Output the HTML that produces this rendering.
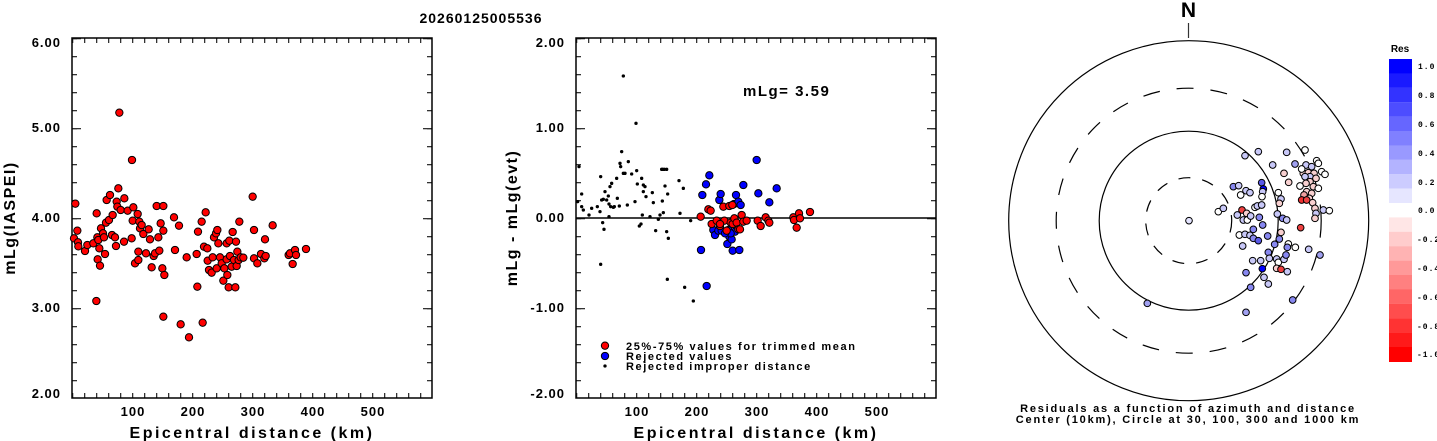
<!DOCTYPE html>
<html><head><meta charset="utf-8"><style>
body{margin:0;background:#fff;}
svg{display:block;font-family:"Liberation Sans",sans-serif;font-weight:bold;}
</style></head><body>
<svg width="1437" height="441" viewBox="0 0 1437 441" xmlns="http://www.w3.org/2000/svg">
<defs>
<pattern id="tx" patternUnits="userSpaceOnUse" x="72" y="0" width="12" height="441"><rect x="0" y="0" width="1.3" height="441" fill="#333"/></pattern>
<pattern id="ty" patternUnits="userSpaceOnUse" x="0" y="38" width="1437" height="18"><rect x="0" y="0" width="1437" height="1.3" fill="#333"/></pattern>
<pattern id="tY" patternUnits="userSpaceOnUse" x="0" y="38" width="1437" height="90"><rect x="0" y="0" width="1437" height="1.3" fill="#333"/></pattern>
</defs>
<text x="481" y="23" font-size="14" text-anchor="middle" letter-spacing="1">20260125005536</text>

<!-- TICKS -->
<g>
<rect x="72" y="38" width="360" height="5" fill="url(#tx)"/>
<rect x="72" y="393" width="360" height="5" fill="url(#tx)"/>
<rect x="72" y="38" width="5" height="360" fill="url(#ty)"/>
<rect x="427" y="38" width="5" height="360" fill="url(#ty)"/>
<rect x="72" y="38" width="9" height="360" fill="url(#tY)"/>
<rect x="423" y="38" width="9" height="360" fill="url(#tY)"/>
<rect x="576" y="38" width="360" height="5" fill="url(#tx)"/>
<rect x="576" y="393" width="360" height="5" fill="url(#tx)"/>
<rect x="576" y="38" width="5" height="360" fill="url(#ty)"/>
<rect x="931" y="38" width="5" height="360" fill="url(#ty)"/>
<rect x="576" y="38" width="9" height="360" fill="url(#tY)"/>
<rect x="927" y="38" width="9" height="360" fill="url(#tY)"/>
</g>

<!-- LEFT PLOT -->
<rect x="72" y="38" width="360" height="360" fill="none" stroke="#000" stroke-width="1.5"/>
<g font-size="13" text-anchor="end" letter-spacing="1">
<text x="61" y="47">6.00</text><text x="61" y="132">5.00</text><text x="61" y="222">4.00</text><text x="61" y="312">3.00</text><text x="61" y="398">2.00</text>
</g>
<g font-size="13" text-anchor="middle" letter-spacing="1">
<text x="133" y="416">100</text><text x="193" y="416">200</text><text x="253" y="416">300</text><text x="313" y="416">400</text><text x="373" y="416">500</text>
</g>
<text x="252" y="438" font-size="16" text-anchor="middle" letter-spacing="2.5">Epicentral distance (km)</text>
<text transform="translate(15,218) rotate(-90)" font-size="16" text-anchor="middle" letter-spacing="1.5">mLg(IASPEI)</text>

<g transform="scale(0.33333)" fill="#f00" stroke="#000" stroke-width="3">
<circle cx="226" cy="611" r="11"/><circle cx="222" cy="715" r="11"/><circle cx="232" cy="692" r="11"/><circle cx="234" cy="727" r="11"/><circle cx="235" cy="739" r="11"/><circle cx="255" cy="753" r="11"/><circle cx="262" cy="735" r="11"/><circle cx="280" cy="730" r="11"/><circle cx="290" cy="640" r="11"/><circle cx="292" cy="712" r="11"/><circle cx="295" cy="720" r="11"/><circle cx="298" cy="745" r="11"/><circle cx="293" cy="778" r="11"/><circle cx="300" cy="797" r="11"/><circle cx="289" cy="903" r="11"/><circle cx="303" cy="685" r="11"/><circle cx="309" cy="700" r="11"/><circle cx="312" cy="712" r="11"/><circle cx="315" cy="762" r="11"/><circle cx="318" cy="668" r="11"/><circle cx="320" cy="600" r="11"/><circle cx="327" cy="660" r="11"/><circle cx="330" cy="585" r="11"/><circle cx="338" cy="645" r="11"/><circle cx="336" cy="705" r="11"/><circle cx="345" cy="712" r="11"/><circle cx="348" cy="738" r="11"/><circle cx="350" cy="605" r="11"/><circle cx="355" cy="565" r="11"/><circle cx="352" cy="620" r="11"/><circle cx="358" cy="338" r="11"/><circle cx="362" cy="630" r="11"/><circle cx="372" cy="725" r="11"/><circle cx="373" cy="595" r="11"/><circle cx="383" cy="632" r="11"/><circle cx="395" cy="715" r="11"/><circle cx="396" cy="480" r="11"/><circle cx="400" cy="622" r="11"/><circle cx="398" cy="662" r="11"/><circle cx="405" cy="790" r="11"/><circle cx="413" cy="642" r="11"/><circle cx="415" cy="755" r="11"/><circle cx="415" cy="780" r="11"/><circle cx="418" cy="665" r="11"/><circle cx="420" cy="685" r="11"/><circle cx="425" cy="675" r="11"/><circle cx="430" cy="702" r="11"/><circle cx="438" cy="760" r="11"/><circle cx="446" cy="688" r="11"/><circle cx="450" cy="718" r="11"/><circle cx="455" cy="802" r="11"/><circle cx="461" cy="768" r="11"/><circle cx="465" cy="760" r="11"/><circle cx="470" cy="618" r="11"/><circle cx="475" cy="712" r="11"/><circle cx="478" cy="752" r="11"/><circle cx="482" cy="670" r="11"/><circle cx="487" cy="805" r="11"/><circle cx="490" cy="618" r="11"/><circle cx="490" cy="692" r="11"/><circle cx="493" cy="825" r="11"/><circle cx="490" cy="950" r="11"/><circle cx="522" cy="652" r="11"/><circle cx="525" cy="750" r="11"/><circle cx="537" cy="677" r="11"/><circle cx="542" cy="973" r="11"/><circle cx="560" cy="772" r="11"/><circle cx="567" cy="1012" r="11"/><circle cx="590" cy="762" r="11"/><circle cx="592" cy="860" r="11"/><circle cx="594" cy="695" r="11"/><circle cx="605" cy="665" r="11"/><circle cx="608" cy="968" r="11"/><circle cx="612" cy="740" r="11"/><circle cx="617" cy="637" r="11"/><circle cx="622" cy="745" r="11"/><circle cx="623" cy="782" r="11"/><circle cx="627" cy="810" r="11"/><circle cx="635" cy="818" r="11"/><circle cx="638" cy="772" r="11"/><circle cx="642" cy="712" r="11"/><circle cx="648" cy="700" r="11"/><circle cx="650" cy="805" r="11"/><circle cx="652" cy="690" r="11"/><circle cx="655" cy="730" r="11"/><circle cx="660" cy="772" r="11"/><circle cx="665" cy="790" r="11"/><circle cx="670" cy="842" r="11"/><circle cx="673" cy="805" r="11"/><circle cx="680" cy="730" r="11"/><circle cx="680" cy="778" r="11"/><circle cx="682" cy="825" r="11"/><circle cx="686" cy="862" r="11"/><circle cx="688" cy="722" r="11"/><circle cx="690" cy="768" r="11"/><circle cx="695" cy="800" r="11"/><circle cx="698" cy="696" r="11"/><circle cx="702" cy="780" r="11"/><circle cx="706" cy="862" r="11"/><circle cx="708" cy="725" r="11"/><circle cx="710" cy="798" r="11"/><circle cx="712" cy="755" r="11"/><circle cx="716" cy="780" r="11"/><circle cx="718" cy="665" r="11"/><circle cx="722" cy="772" r="11"/><circle cx="730" cy="773" r="11"/><circle cx="758" cy="590" r="11"/><circle cx="762" cy="690" r="11"/><circle cx="762" cy="775" r="11"/><circle cx="772" cy="790" r="11"/><circle cx="783" cy="762" r="11"/><circle cx="793" cy="775" r="11"/><circle cx="795" cy="718" r="11"/><circle cx="797" cy="768" r="11"/><circle cx="818" cy="676" r="11"/><circle cx="866" cy="765" r="11"/><circle cx="870" cy="760" r="11"/><circle cx="878" cy="792" r="11"/><circle cx="885" cy="750" r="11"/><circle cx="888" cy="765" r="11"/><circle cx="918" cy="747" r="11"/>
</g>

<!-- MIDDLE PLOT -->
<rect x="576" y="38" width="360" height="360" fill="none" stroke="#000" stroke-width="1.5"/>
<line x1="576" y1="218" x2="936" y2="218" stroke="#000" stroke-width="1.5"/>
<g font-size="13" text-anchor="end" letter-spacing="1">
<text x="565" y="47">2.00</text><text x="565" y="132">1.00</text><text x="565" y="222">0.00</text><text x="565" y="312">-1.00</text><text x="565" y="398">-2.00</text>
</g>
<g font-size="13" text-anchor="middle" letter-spacing="1">
<text x="637" y="416">100</text><text x="697" y="416">200</text><text x="757" y="416">300</text><text x="817" y="416">400</text><text x="877" y="416">500</text>
</g>
<text x="756" y="438" font-size="16" text-anchor="middle" letter-spacing="2.5">Epicentral distance (km)</text>
<text transform="translate(517,218) rotate(-90)" font-size="16" text-anchor="middle" letter-spacing="1.5">mLg - mLg(evt)</text>
<text x="743" y="96" font-size="15" letter-spacing="1.5">mLg= 3.59</text>

<g transform="translate(480,0) scale(0.33333)">
<g fill="#000">
<circle cx="297" cy="500" r="5"/><circle cx="293" cy="605" r="5"/><circle cx="305" cy="582" r="5"/><circle cx="305" cy="620" r="5"/><circle cx="310" cy="630" r="5"/><circle cx="327" cy="645" r="5"/><circle cx="335" cy="625" r="5"/><circle cx="352" cy="620" r="5"/><circle cx="362" cy="530" r="5"/><circle cx="360" cy="635" r="5"/><circle cx="365" cy="600" r="5"/><circle cx="368" cy="668" r="5"/><circle cx="372" cy="688" r="5"/><circle cx="370" cy="598" r="5"/><circle cx="375" cy="575" r="5"/><circle cx="380" cy="600" r="5"/><circle cx="385" cy="588" r="5"/><circle cx="387" cy="612" r="5"/><circle cx="390" cy="560" r="5"/><circle cx="387" cy="650" r="5"/><circle cx="395" cy="550" r="5"/><circle cx="392" cy="620" r="5"/><circle cx="400" cy="622" r="5"/><circle cx="403" cy="620" r="5"/><circle cx="410" cy="535" r="5"/><circle cx="412" cy="595" r="5"/><circle cx="418" cy="618" r="5"/><circle cx="420" cy="490" r="5"/><circle cx="422" cy="500" r="5"/><circle cx="425" cy="455" r="5"/><circle cx="430" cy="520" r="5"/><circle cx="435" cy="520" r="5"/><circle cx="445" cy="485" r="5"/><circle cx="442" cy="615" r="5"/><circle cx="455" cy="522" r="5"/><circle cx="465" cy="605" r="5"/><circle cx="468" cy="370" r="5"/><circle cx="470" cy="512" r="5"/><circle cx="472" cy="552" r="5"/><circle cx="478" cy="678" r="5"/><circle cx="483" cy="672" r="5"/><circle cx="485" cy="535" r="5"/><circle cx="487" cy="645" r="5"/><circle cx="490" cy="555" r="5"/><circle cx="490" cy="575" r="5"/><circle cx="495" cy="560" r="5"/><circle cx="498" cy="590" r="5"/><circle cx="510" cy="650" r="5"/><circle cx="517" cy="578" r="5"/><circle cx="520" cy="608" r="5"/><circle cx="527" cy="692" r="5"/><circle cx="535" cy="658" r="5"/><circle cx="540" cy="645" r="5"/><circle cx="545" cy="508" r="5"/><circle cx="547" cy="603" r="5"/><circle cx="550" cy="638" r="5"/><circle cx="553" cy="508" r="5"/><circle cx="555" cy="558" r="5"/><circle cx="560" cy="508" r="5"/><circle cx="563" cy="582" r="5"/><circle cx="560" cy="695" r="5"/><circle cx="565" cy="715" r="5"/><circle cx="562" cy="838" r="5"/><circle cx="597" cy="542" r="5"/><circle cx="600" cy="640" r="5"/><circle cx="610" cy="565" r="5"/><circle cx="614" cy="862" r="5"/><circle cx="632" cy="662" r="5"/><circle cx="640" cy="903" r="5"/><circle cx="430" cy="228" r="5"/><circle cx="362" cy="793" r="5"/><circle cx="548" cy="508" r="5"/>
<circle cx="375" cy="1098" r="5"/>
</g>
<g fill="#00f" stroke="#000" stroke-width="3">
<circle cx="667" cy="585" r="11"/><circle cx="678" cy="553" r="11"/><circle cx="688" cy="526" r="11"/><circle cx="663" cy="750" r="11"/><circle cx="680" cy="858" r="11"/><circle cx="700" cy="690" r="11"/><circle cx="705" cy="705" r="11"/><circle cx="715" cy="692" r="11"/><circle cx="718" cy="600" r="11"/><circle cx="722" cy="582" r="11"/><circle cx="725" cy="692" r="11"/><circle cx="742" cy="732" r="11"/><circle cx="745" cy="690" r="11"/><circle cx="748" cy="710" r="11"/><circle cx="755" cy="718" r="11"/><circle cx="758" cy="752" r="11"/><circle cx="762" cy="612" r="11"/><circle cx="765" cy="695" r="11"/><circle cx="768" cy="585" r="11"/><circle cx="775" cy="605" r="11"/><circle cx="778" cy="750" r="11"/><circle cx="782" cy="615" r="11"/><circle cx="790" cy="555" r="11"/><circle cx="830" cy="480" r="11"/><circle cx="835" cy="580" r="11"/><circle cx="868" cy="607" r="11"/><circle cx="890" cy="565" r="11"/><circle cx="752" cy="700" r="11"/><circle cx="735" cy="700" r="11"/>
<circle cx="375" cy="1068" r="11"/>
</g>
<g fill="#f00" stroke="#000" stroke-width="3">
<circle cx="662" cy="650" r="11"/><circle cx="685" cy="628" r="11"/><circle cx="692" cy="632" r="11"/><circle cx="695" cy="672" r="11"/><circle cx="710" cy="662" r="11"/><circle cx="720" cy="678" r="11"/><circle cx="730" cy="620" r="11"/><circle cx="733" cy="662" r="11"/><circle cx="748" cy="618" r="11"/><circle cx="752" cy="668" r="11"/><circle cx="758" cy="672" r="11"/><circle cx="763" cy="655" r="11"/><circle cx="770" cy="668" r="11"/><circle cx="775" cy="688" r="11"/><circle cx="780" cy="688" r="11"/><circle cx="785" cy="645" r="11"/><circle cx="790" cy="665" r="11"/><circle cx="800" cy="662" r="11"/><circle cx="833" cy="662" r="11"/><circle cx="842" cy="678" r="11"/><circle cx="857" cy="652" r="11"/><circle cx="865" cy="662" r="11"/><circle cx="868" cy="668" r="11"/><circle cx="940" cy="652" r="11"/><circle cx="942" cy="660" r="11"/><circle cx="950" cy="683" r="11"/><circle cx="957" cy="640" r="11"/><circle cx="960" cy="655" r="11"/><circle cx="990" cy="636" r="11"/><circle cx="757" cy="615" r="11"/><circle cx="720" cy="672" r="11"/><circle cx="740" cy="692" r="11"/>
<circle cx="375" cy="1037" r="11"/>
</g>
</g>
<g font-size="11" letter-spacing="1.6">
<text x="626" y="350">25%-75% values for trimmed mean</text>
<text x="626" y="360">Rejected values</text>
<text x="626" y="370">Rejected improper distance</text>
</g>

<!-- POLAR -->
<text x="1188.5" y="17" font-size="21" text-anchor="middle">N</text>
<line x1="1188.5" y1="23" x2="1188.5" y2="38" stroke="#333" stroke-width="1.2"/>
<g fill="none" stroke="#000" stroke-width="1.2">
<circle cx="1188.7" cy="220.7" r="180"/>
<circle cx="1188.7" cy="220.7" r="89.5"/>
<circle cx="1188.7" cy="220.7" r="132.5" stroke-dasharray="17 17"/>
<circle cx="1188.7" cy="220.7" r="43" stroke-dasharray="12 12"/>
</g>
<g transform="translate(1000,0) scale(0.33333)" stroke="#000" stroke-width="3">
<circle cx="567" cy="662" r="10" fill="#e4e4ff"/><circle cx="655" cy="635" r="10" fill="#fff"/><circle cx="670" cy="625" r="10" fill="#c8c8f8"/><circle cx="700" cy="560" r="10" fill="#8888f0"/><circle cx="716" cy="557" r="10" fill="#c8c8f8"/><circle cx="722" cy="585" r="10" fill="#fff"/><circle cx="738" cy="572" r="10" fill="#c8c8f8"/><circle cx="750" cy="578" r="10" fill="#c8c8f8"/><circle cx="735" cy="467" r="10" fill="#c8c8f8"/><circle cx="775" cy="455" r="10" fill="#c8c8f8"/><circle cx="785" cy="548" r="10" fill="#5a5ae8"/><circle cx="790" cy="567" r="10" fill="#0000ff"/><circle cx="788" cy="575" r="10" fill="#c8c8f8"/><circle cx="786" cy="590" r="10" fill="#fff"/><circle cx="726" cy="630" r="10" fill="#ee4040"/><circle cx="740" cy="640" r="10" fill="#f8d0d0"/><circle cx="765" cy="622" r="10" fill="#fff"/><circle cx="772" cy="618" r="10" fill="#c8c8f8"/><circle cx="785" cy="615" r="10" fill="#c8c8f8"/><circle cx="712" cy="645" r="10" fill="#c8c8f8"/><circle cx="730" cy="660" r="10" fill="#c8c8f8"/><circle cx="742" cy="660" r="10" fill="#fff"/><circle cx="752" cy="648" r="10" fill="#c8c8f8"/><circle cx="778" cy="652" r="10" fill="#8888f0"/><circle cx="788" cy="675" r="10" fill="#8888f0"/><circle cx="818" cy="495" r="10" fill="#c8c8f8"/><circle cx="835" cy="578" r="10" fill="#fff"/><circle cx="843" cy="597" r="10" fill="#c8c8f8"/><circle cx="838" cy="610" r="10" fill="#f8d0d0"/><circle cx="832" cy="642" r="10" fill="#c8c8f8"/><circle cx="848" cy="655" r="10" fill="#8888f0"/><circle cx="860" cy="660" r="10" fill="#c8c8f8"/><circle cx="718" cy="705" r="10" fill="#fff"/><circle cx="735" cy="703" r="10" fill="#c8c8f8"/><circle cx="750" cy="706" r="10" fill="#c8c8f8"/><circle cx="760" cy="688" r="10" fill="#8888f0"/><circle cx="760" cy="715" r="10" fill="#8888f0"/><circle cx="775" cy="722" r="10" fill="#5a5ae8"/><circle cx="803" cy="708" r="10" fill="#8888f0"/><circle cx="838" cy="717" r="10" fill="#8888f0"/><circle cx="824" cy="733" r="10" fill="#8888f0"/><circle cx="843" cy="697" r="10" fill="#f8d0d0"/><circle cx="865" cy="732" r="10" fill="#fff"/><circle cx="862" cy="742" r="10" fill="#8888f0"/><circle cx="886" cy="742" r="10" fill="#fff"/><circle cx="728" cy="738" r="10" fill="#c8c8f8"/><circle cx="805" cy="757" r="10" fill="#8888f0"/><circle cx="808" cy="775" r="10" fill="#c8c8f8"/><circle cx="782" cy="782" r="10" fill="#c8c8f8"/><circle cx="758" cy="782" r="10" fill="#c8c8f8"/><circle cx="787" cy="806" r="10" fill="#0000ff"/><circle cx="738" cy="818" r="10" fill="#8888f0"/><circle cx="792" cy="832" r="10" fill="#c8c8f8"/><circle cx="805" cy="852" r="10" fill="#c8c8f8"/><circle cx="752" cy="862" r="10" fill="#8888f0"/><circle cx="830" cy="777" r="10" fill="#c8c8f8"/><circle cx="835" cy="787" r="10" fill="#fff"/><circle cx="852" cy="778" r="10" fill="#c8c8f8"/><circle cx="858" cy="765" r="10" fill="#8888f0"/><circle cx="830" cy="805" r="10" fill="#f8d0d0"/><circle cx="843" cy="808" r="10" fill="#ee4040"/><circle cx="862" cy="815" r="10" fill="#c8c8f8"/><circle cx="878" cy="900" r="10" fill="#8888f0"/><circle cx="738" cy="937" r="10" fill="#a0a0f0"/><circle cx="442" cy="910" r="10" fill="#a0a0f0"/><circle cx="926" cy="748" r="10" fill="#c8c8f8"/><circle cx="960" cy="765" r="10" fill="#a0a0f0"/><circle cx="902" cy="683" r="10" fill="#ee4040"/><circle cx="860" cy="457" r="10" fill="#c8c8f8"/><circle cx="852" cy="520" r="10" fill="#f8d0d0"/><circle cx="866" cy="547" r="10" fill="#f8d0d0"/><circle cx="885" cy="492" r="10" fill="#a0a0f0"/><circle cx="915" cy="450" r="10" fill="#fff"/><circle cx="918" cy="495" r="10" fill="#c8c8f8"/><circle cx="910" cy="520" r="10" fill="#f8d0d0"/><circle cx="905" cy="507" r="10" fill="#fff"/><circle cx="925" cy="518" r="10" fill="#f8d0d0"/><circle cx="935" cy="500" r="10" fill="#c8c8f8"/><circle cx="942" cy="520" r="10" fill="#f8d0d0"/><circle cx="950" cy="482" r="10" fill="#fff"/><circle cx="955" cy="490" r="10" fill="#fff"/><circle cx="965" cy="515" r="10" fill="#fff"/><circle cx="975" cy="523" r="10" fill="#fff"/><circle cx="930" cy="530" r="10" fill="#c8c8f8"/><circle cx="915" cy="530" r="10" fill="#c8c8f8"/><circle cx="948" cy="535" r="10" fill="#f8d0d0"/><circle cx="930" cy="545" r="10" fill="#f8d0d0"/><circle cx="918" cy="550" r="10" fill="#f8d0d0"/><circle cx="900" cy="558" r="10" fill="#fff"/><circle cx="940" cy="560" r="10" fill="#f8d0d0"/><circle cx="955" cy="565" r="10" fill="#fff"/><circle cx="920" cy="575" r="10" fill="#f8d0d0"/><circle cx="935" cy="580" r="10" fill="#f8d0d0"/><circle cx="912" cy="585" r="10" fill="#f0a0a0"/><circle cx="928" cy="595" r="10" fill="#f8d0d0"/><circle cx="905" cy="600" r="10" fill="#ee3030"/><circle cx="920" cy="600" r="10" fill="#ee4040"/><circle cx="938" cy="608" r="10" fill="#f8d0d0"/><circle cx="945" cy="625" r="10" fill="#f8d0d0"/><circle cx="948" cy="640" r="10" fill="#c8c8f8"/><circle cx="970" cy="630" r="10" fill="#c8c8f8"/><circle cx="988" cy="632" r="10" fill="#fff"/><circle cx="945" cy="655" r="10" fill="#f8d0d0"/>
</g>
<g font-size="11" text-anchor="middle" letter-spacing="1.8">
<text x="1188" y="412">Residuals as a function of azimuth and distance</text>
<text x="1188" y="423">Center (10km), Circle at 30, 100, 300 and 1000 km</text>
</g>

<!-- COLORBAR -->
<text x="1400" y="52" font-size="10" text-anchor="middle">Res</text>
<g>
<rect x="1389" y="59" width="23" height="14.5" fill="#0000ff"/>
<rect x="1389" y="73.4" width="23" height="14.5" fill="#1a1aff"/>
<rect x="1389" y="87.8" width="23" height="14.5" fill="#3333ff"/>
<rect x="1389" y="102.2" width="23" height="14.5" fill="#4d4dff"/>
<rect x="1389" y="116.6" width="23" height="14.5" fill="#6666ff"/>
<rect x="1389" y="131" width="23" height="14.5" fill="#8080ff"/>
<rect x="1389" y="145.4" width="23" height="14.5" fill="#9999ff"/>
<rect x="1389" y="159.8" width="23" height="14.5" fill="#b3b3ff"/>
<rect x="1389" y="174.2" width="23" height="14.5" fill="#ccccff"/>
<rect x="1389" y="188.6" width="23" height="14.5" fill="#e6e6ff"/>
<rect x="1389" y="203" width="23" height="14.5" fill="#ffffff"/>
<rect x="1389" y="217.4" width="23" height="14.5" fill="#ffe6e6"/>
<rect x="1389" y="231.8" width="23" height="14.5" fill="#ffcccc"/>
<rect x="1389" y="246.2" width="23" height="14.5" fill="#ffb3b3"/>
<rect x="1389" y="260.6" width="23" height="14.5" fill="#ff9999"/>
<rect x="1389" y="275" width="23" height="14.5" fill="#ff8080"/>
<rect x="1389" y="289.4" width="23" height="14.5" fill="#ff6666"/>
<rect x="1389" y="303.8" width="23" height="14.5" fill="#ff4d4d"/>
<rect x="1389" y="318.2" width="23" height="14.5" fill="#ff3333"/>
<rect x="1389" y="332.6" width="23" height="14.5" fill="#ff1a1a"/>
<rect x="1389" y="347" width="23" height="15" fill="#ff0000"/>
</g>
<g font-size="8" letter-spacing="1" font-family="Liberation Mono, monospace">
<text x="1418" y="69">1.0</text><text x="1418" y="98">0.8</text><text x="1418" y="127">0.6</text><text x="1418" y="156">0.4</text><text x="1418" y="185">0.2</text><text x="1418" y="213">0.0</text><text x="1417" y="242">-0.2</text><text x="1417" y="271">-0.4</text><text x="1417" y="300">-0.6</text><text x="1417" y="329">-0.8</text><text x="1417" y="357">-1.0</text>
</g>
</svg>
</body></html>
